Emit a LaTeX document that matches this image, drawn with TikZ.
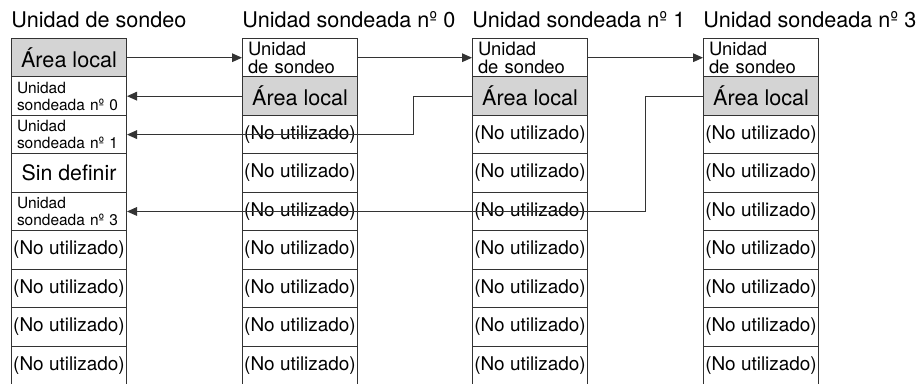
\documentclass[tikz,border=0pt]{standalone}
\usepackage{fontspec}
\setmainfont{TeX Gyre Heros}
\usetikzlibrary{arrows.meta}
\definecolor{linegray}{HTML}{333333}
\definecolor{localgray}{HTML}{D4D4D4}
\tikzset{cell/.style={draw=linegray,line width=0.75pt,inner sep=0pt,minimum width=86.25pt,minimum height=28.83pt,anchor=north west},local/.style={cell,fill=localgray,font=\fontsize{16.2}{19}\selectfont},undef/.style={cell,font=\fontsize{16}{19}\selectfont},unused/.style={cell,font=\fontsize{14.2}{16}\selectfont},polled/.style={cell,align=left,text width=78pt,inner xsep=4pt,font=\fontsize{11.6}{12.8}\selectfont},poller/.style={polled,font=\fontsize{13.8}{13.2}\selectfont},title/.style={anchor=base west,inner sep=0pt,font=\fontsize{16.2}{19}\selectfont},link/.style={-{Triangle[length=7.5pt,width=6.5pt]},draw=linegray,line width=0.75pt}}
\begin{document}
\begin{tikzpicture}[x=0.75pt,y=-0.75pt]
 \useasboundingbox (0,0) rectangle (916,384);
 % titles
 \node[title] (t0) at (11,28) {Unidad de sondeo};
 \foreach \c/\cx/\n in {1/242/0,2/472/1,3/703/3}
   \node[title] (t\c) at (\cx,28) {Unidad sondeada nº \n};
 % polling unit table
 \foreach \r/\sty/\txt in {0/local/{Área local},1/polled/{Unidad\\sondeada nº 0},2/polled/{Unidad\\sondeada nº 1},3/undef/{Sin definir},4/polled/{Unidad\\sondeada nº 3},5/unused/{(No utilizado)},6/unused/{(No utilizado)},7/unused/{(No utilizado)},8/unused/{(No utilizado)}}
   \node[\sty] (n0\r) at (11,{38+38.44*\r}) {\txt};
 % polled unit tables
 \foreach \c/\cx in {1/242,2/472,3/703} {
   \node[poller] (n\c0) at (\cx,38) {Unidad\\de sondeo};
   \node[local] (n\c1) at (\cx,76.44) {Área local};
   \foreach \r in {2,...,8}
     \node[unused] (n\c\r) at (\cx,{38+38.44*\r}) {(No utilizado)};
 }
 % links
 \draw[link] (n00.east) -- (n10.west);
 \draw[link] (n10.east) -- (n20.west);
 \draw[link] (n20.east) -- (n30.west);
 \draw[link] (n11.west) -- (n01.east);
 \draw[link] (n21.west) -- ++(-59,0) |- (n02.east);
 \draw[link] (n31.west) -- ++(-58,0) |- (n04.east);
\end{tikzpicture}
\end{document}
